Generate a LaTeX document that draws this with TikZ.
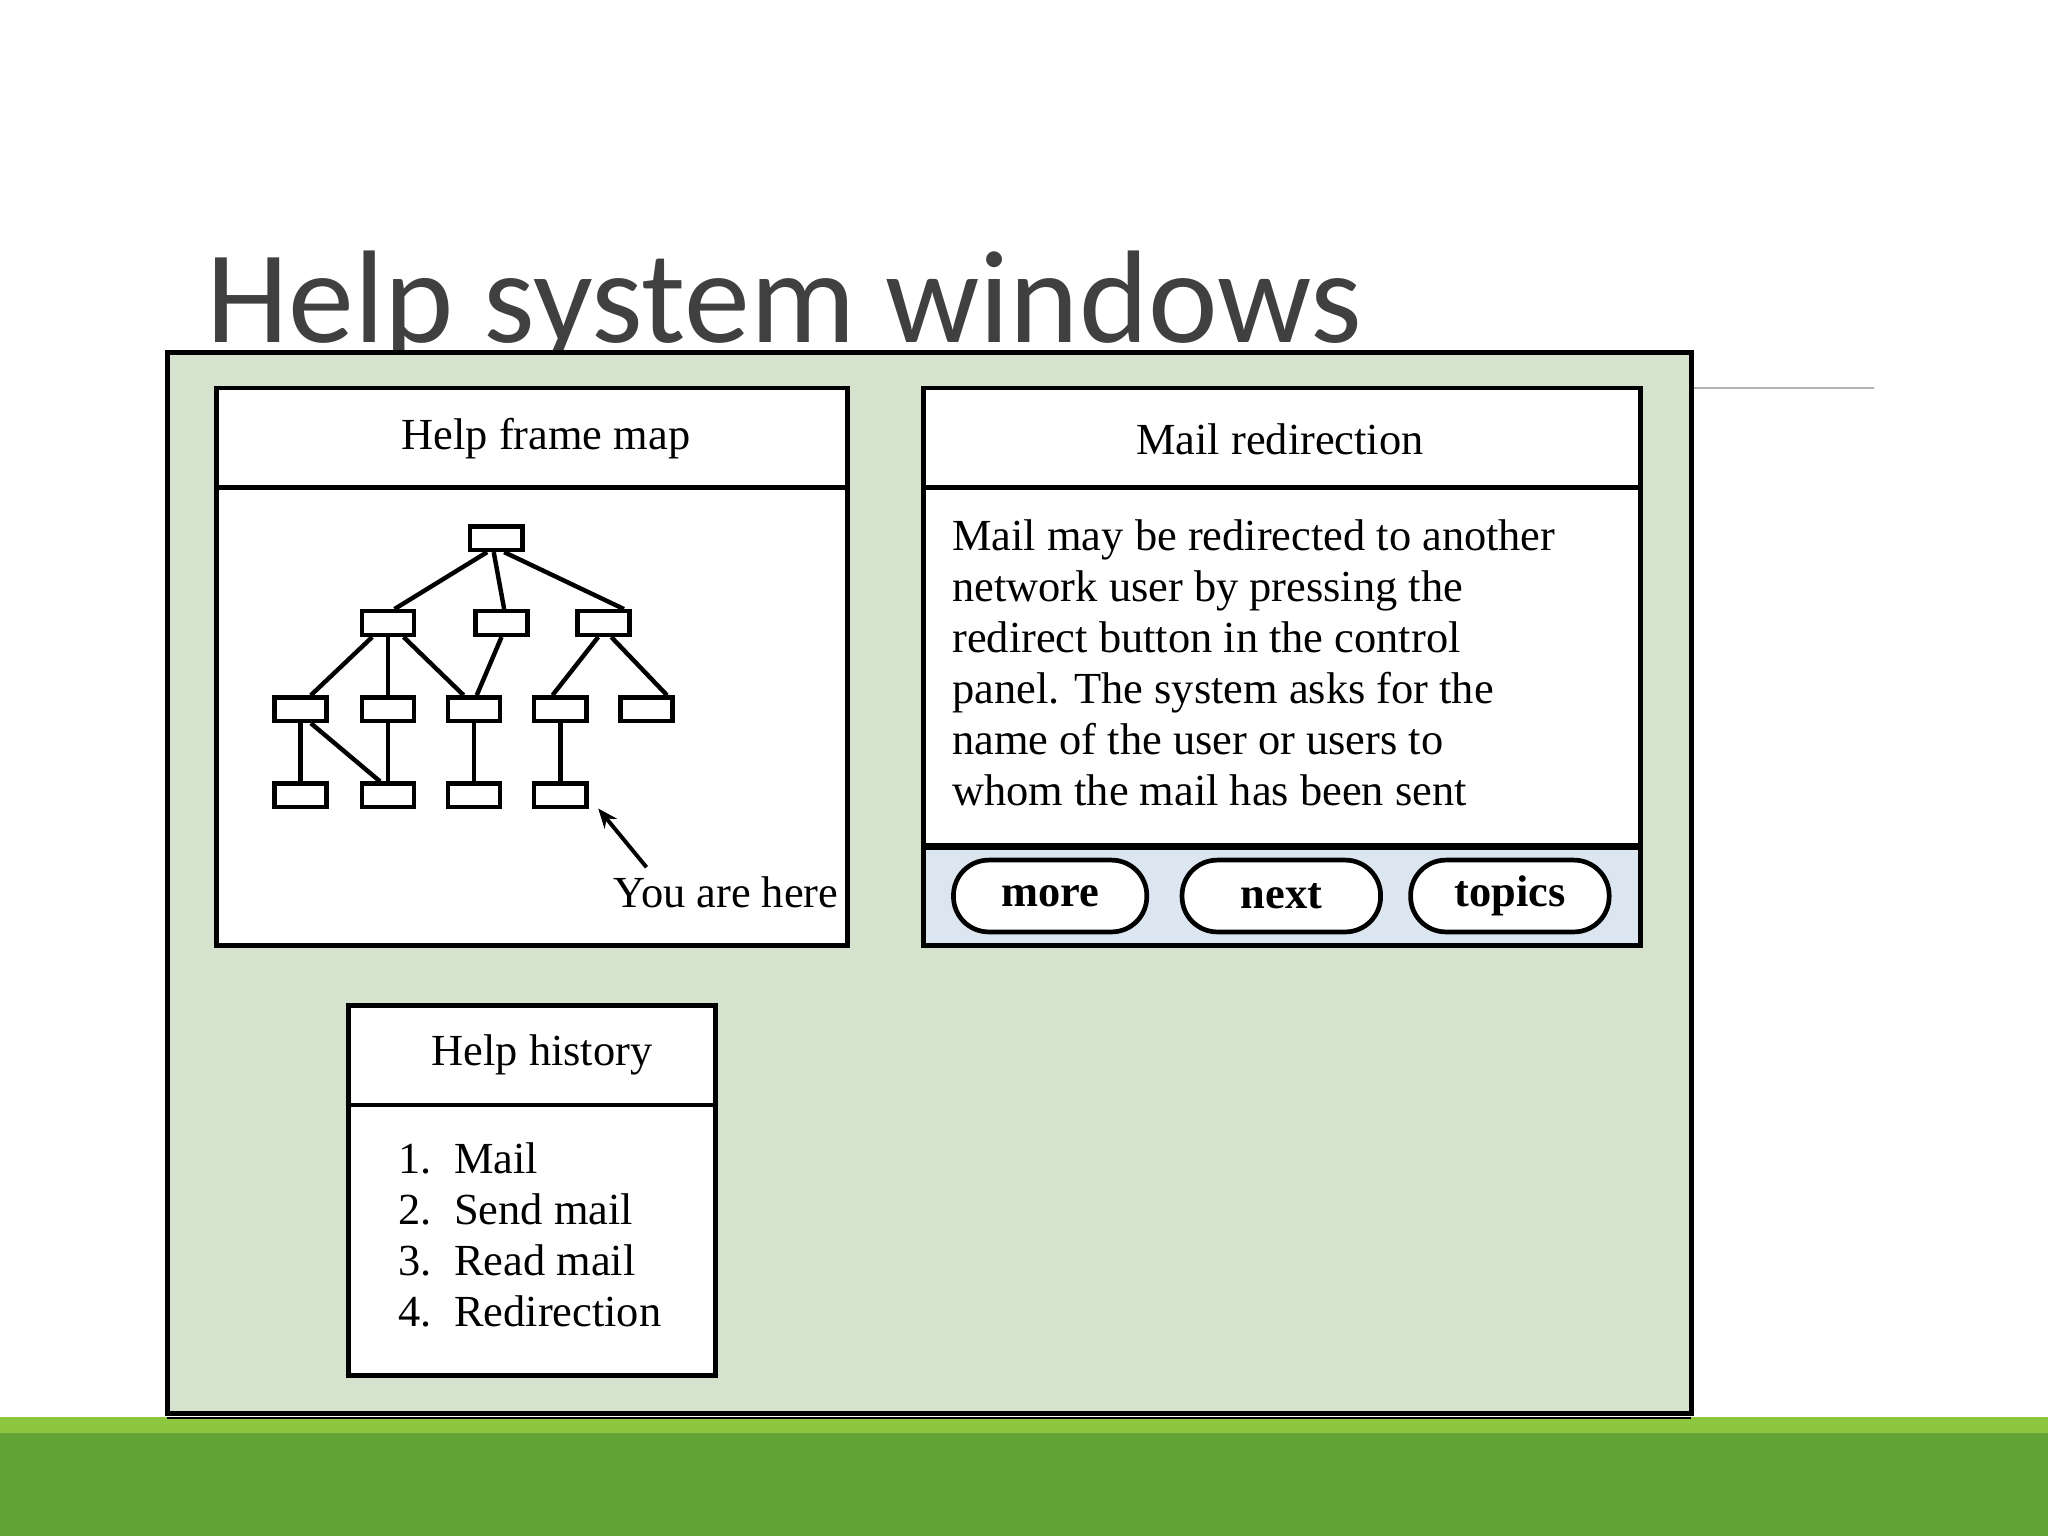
\documentclass[tikz,border=0pt]{standalone}
\usepackage{fontspec}
\usetikzlibrary{arrows.meta}
\setmainfont{Liberation Serif}
\newfontfamily\titlefont{Carlito}
\begin{document}
\begin{tikzpicture}[x=1pt,y=-1pt,
  box/.style={draw,line width=3.6pt},
  tn/.style={draw,line width=3.4pt,fill=white,minimum width=40pt,minimum height=18pt,inner sep=0pt},
  ed/.style={line width=3.4pt},
  txt/.style={font=\fontsize{34}{39}\selectfont,inner sep=0pt},
  btn/.style={draw,line width=3.6pt,rounded corners=27pt,fill=white,minimum width=150pt,minimum height=55pt,font=\fontsize{34}{39}\selectfont\bfseries}]
\useasboundingbox (0,0) rectangle (1568,1176);
\fill[white] (0,0) rectangle (1568,1176);
\fill[fill={rgb,255:red,141;green,198;blue,63}] (0,1085) rectangle (1568,1097);
\fill[fill={rgb,255:red,98;green,163;blue,55}] (0,1097) rectangle (1568,1176);
\node[anchor=base west,inner sep=0pt,text={rgb,255:red,64;green,64;blue,64},font=\titlefont\fontsize{101}{110}\selectfont] (title) at (158,262) {Help system windows};
\draw[line width=1pt,gray!60] (1295,297) -- (1435,297);
% main frame
\draw[box,fill={rgb,255:red,213;green,226;blue,205}] (128,270) rectangle (1295,1082);
\draw[line width=1.5pt] (128,1086) -- (1295,1086);
% help frame map
\draw[box,fill=white] (166,297) rectangle (649,724);
\draw[box] (166,373) -- (649,373);
\node[txt] (hfm) at (418,336) {Help frame map};
\node[tn] (r) at (380,412) {};
\node[tn] (a) at (297,477) {};
\node[tn] (b) at (384,477) {};
\node[tn] (c) at (462,477) {};
\node[tn] (d) at (230,543) {};
\node[tn] (e) at (297,543) {};
\node[tn] (f) at (363,543) {};
\node[tn] (g) at (429,543) {};
\node[tn] (h) at (495,543) {};
\node[tn] (i) at (230,609) {};
\node[tn] (j) at (297,609) {};
\node[tn] (k) at (363,609) {};
\node[tn] (l) at (429,609) {};
\draw[ed] ([xshift=-7]r.south) -- ([xshift=5]a.north);
\draw[ed] ([xshift=-2]r.south) -- ([xshift=2]b.north);
\draw[ed] ([xshift=6]r.south) -- ([xshift=-6]c.north east);
\draw[ed] ([xshift=-12]a.south) -- ([xshift=8]d.north);
\draw[ed] (a.south) -- (e.north);
\draw[ed] ([xshift=12]a.south) -- ([xshift=-8]f.north);
\draw[ed] (b.south) -- ([xshift=2]f.north);
\draw[ed] ([xshift=-4]c.south) -- ([xshift=-6]g.north);
\draw[ed] ([xshift=6]c.south) -- ([xshift=-6]h.north east);
\draw[ed] (d.south) -- (i.north);
\draw[ed] ([xshift=8]d.south) -- ([xshift=-6]j.north);
\draw[ed] (e.south) -- (j.north);
\draw[ed] (f.south) -- (k.north);
\draw[ed] (g.south) -- (l.north);
\node[txt,anchor=base east] (yah) at (642,695) {You are here};
\coordinate (tip) at (458,619);
\draw[ed,line width=3pt,-{Stealth[length=15pt,width=12pt]}] (495,664) -- (tip);
% mail redirection
\draw[box,fill=white] (707,297) rectangle (1256,724);
\fill[fill={rgb,255:red,220;green,230;blue,240}] (707,648) rectangle (1256,724);
\draw[box] (707,297) rectangle (1256,724);
\draw[box] (707,373) -- (1256,373);
\draw[line width=5pt] (707,648) -- (1256,648);
\node[txt] (mr) at (980,336) {Mail redirection};
\node[txt,anchor=north west,align=left] (body) at (729,398) {Mail may be redirected to another\\network user by pressing the\\redirect button in the control\\panel. The system asks for the\\name of the user or users to\\whom the mail has been sent};
\node[btn,minimum width=148pt] (more) at (804,686) {more};
\node[btn,minimum width=152pt] (next) at (981,686) {next};
\node[btn,minimum width=152pt] (topics) at (1156,686) {topics};
% help history
\draw[box,fill=white] (267,770) rectangle (548,1053);
\draw[box] (267,846) -- (548,846);
\node[txt] (hh) at (415,808) {Help history};
\node[txt,anchor=north west,align=left] (list) at (305,875) {1.\ \ Mail\\2.\ \ Send mail\\3.\ \ Read mail\\4.\ \ Redirection};
\end{tikzpicture}
\end{document}
